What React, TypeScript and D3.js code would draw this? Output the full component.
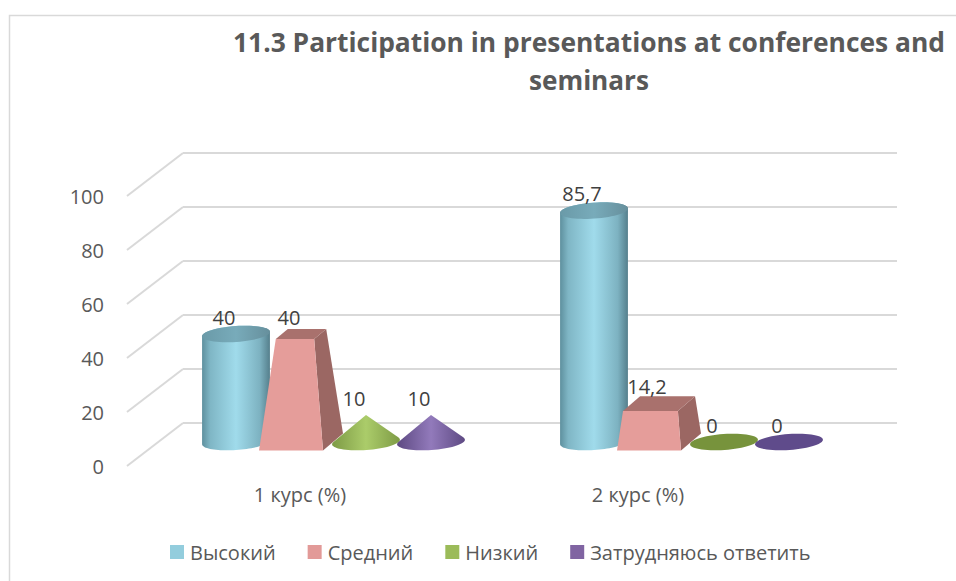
import * as d3 from 'd3';
import React, { useEffect, useRef } from 'react';

// chart data
const categories = ['1 курс (%)', '2 курс (%)'];
const seriesNames = ['Высокий', 'Средний', 'Низкий', 'Затрудняюсь ответить'];
const vysokiy = [40, 85.7];
const sredniy = [40, 14.2];
const nizkiy = [10, 0];
const zatrudnyayus = [10, 0];
const yTicks = [0, 20, 40, 60, 80, 100];
const titleLines = ['11.3 Participation in presentations at conferences and', 'seminars'];

const seriesValues = [vysokiy, sredniy, nizkiy, zatrudnyayus];
const shapes = ['cylinder', 'pyramid', 'cone', 'cone'];
const legendColors = ['#93cddd', '#e29a98', '#9bbb59', '#8064a2'];

const FONT = '"Open Sans", sans-serif';
const TEXT = '#595959';

const App = () => {
  const ref = useRef<SVGSVGElement>(null);

  useEffect(() => {
    const svg = d3.select(ref.current);
    svg.selectAll('*').remove();
    const defs = svg.append('defs');

    const gradient = (id: string, stops: [number, string][]) => {
      const g = defs.append('linearGradient').attr('id', id)
        .attr('x1', 0).attr('x2', 1).attr('y1', 0).attr('y2', 0);
      stops.forEach(([o, c]) => g.append('stop').attr('offset', o).attr('stop-color', c));
    };
    gradient('g-cyl', [[0, '#5e909e'], [0.12, '#7fb6c5'], [0.5, '#a0dbeb'], [0.85, '#7db2c1'], [1, '#557f8c']]);
    gradient('g-cyltop', [[0, '#6a9aa8'], [0.5, '#78abba'], [1, '#668f9c']]);
    gradient('g-green', [[0, '#7d9a45'], [0.5, '#abcc6a'], [1, '#7e9b45']]);
    gradient('g-purple', [[0, '#5d4982'], [0.5, '#927abb'], [1, '#5e4a83']]);
    const coneFill = ['', '', 'url(#g-green)', 'url(#g-purple)'];
    const discFill = ['#6f9fae', '#a3706b', '#77933c', '#5f4b8b'];

    // chart frame
    svg.append('rect').attr('width', 956).attr('height', 581).attr('fill', '#fff');
    svg.append('rect')
      .attr('x', 9.5).attr('y', 15.5).attr('width', 1000).attr('height', 1000)
      .attr('fill', 'none').attr('stroke', '#d9d9d9').attr('stroke-width', 1.5);

    // title
    svg.append('g').selectAll('text').data(titleLines).join('text')
      .attr('x', 589)
      .attr('y', (d, i) => 42 + i * 38)
      .attr('text-anchor', 'middle')
      .attr('dominant-baseline', 'central')
      .attr('font-family', FONT)
      .attr('font-weight', 700)
      .attr('font-size', 26)
      .attr('fill', TEXT)
      .attr('textLength', (d, i) => (i === 0 ? 712 : 120))
      .attr('lengthAdjust', 'spacingAndGlyphs')
      .text((d) => d);

    // back wall and side wall gridlines
    const wallLeft = 183;
    const wallRight = 897;
    const depthDx = -56;
    const depthDy = 43;
    const yBack = d3.scaleLinear().domain([0, 100]).range([423, 153]);
    const grid = svg.append('g').attr('stroke', '#d9d9d9').attr('stroke-width', 2).attr('fill', 'none');
    grid.selectAll('.h').data(yTicks).join('line')
      .attr('x1', wallLeft).attr('x2', wallRight)
      .attr('y1', (d) => yBack(d)).attr('y2', (d) => yBack(d));
    grid.selectAll('.d').data(yTicks).join('line')
      .attr('x1', wallLeft).attr('x2', wallLeft + depthDx)
      .attr('y1', (d) => yBack(d)).attr('y2', (d) => yBack(d) + depthDy);

    svg.append('g').selectAll('text').data(yTicks).join('text')
      .attr('x', 104)
      .attr('y', (d) => yBack(d) + depthDy)
      .attr('text-anchor', 'end')
      .attr('dominant-baseline', 'central')
      .attr('font-family', FONT)
      .attr('font-size', 20)
      .attr('fill', TEXT)
      .text((d) => d);

    // bars
    const x0 = d3.scalePoint().domain(categories).range([333.5, 691.5]);
    const x1 = d3.scalePoint().domain(seriesNames).range([-97.5, 97.5]);
    const h = d3.scaleLinear().domain([0, 100]).range([0, 270]);
    const baseY = 442;
    const rx = 34;
    const ry = 8;
    const tilt = (-4 * Math.PI) / 180;
    const line = d3.line();

    const ellipsePts = (cx: number, cy: number, t0: number, t1: number, n = 40) =>
      d3.range(n + 1).map((i) => {
        const t = t0 + ((t1 - t0) * i) / n;
        const ex = rx * Math.cos(t);
        const ey = ry * Math.sin(t);
        return [cx + ex * Math.cos(tilt) - ey * Math.sin(tilt), cy + ex * Math.sin(tilt) + ey * Math.cos(tilt)] as [number, number];
      });
    const tR = Math.atan2(-ry * Math.sin(tilt), rx * Math.cos(tilt));

    const bars = svg.append('g');
    const labels: { x: number; y: number; v: number }[] = [];

    categories.forEach((cat, ci) => {
      seriesNames.forEach((name, si) => {
        const v = seriesValues[si][ci];
        const cx = x0(cat)! + x1(name)!;
        const hv = h(v);
        const yt = baseY - hv;
        labels.push({ x: cx - 12, y: yt - 17, v });

        if (shapes[si] === 'cylinder') {
          const lower = ellipsePts(cx, baseY, tR, tR + Math.PI);
          const upper = ellipsePts(cx, yt, tR + Math.PI, tR + 2 * Math.PI);
          bars.append('path').attr('d', line([...lower, ...upper]) + 'Z').attr('fill', 'url(#g-cyl)');
          bars.append('path').attr('d', line(ellipsePts(cx, yt, 0, 2 * Math.PI, 60)) + 'Z').attr('fill', 'url(#g-cyltop)');
        } else if (shapes[si] === 'pyramid') {
          const hw = 32;
          const dx = 10;
          const dy = 8.5;
          const s = 1 - v / 100;
          const FBL: [number, number] = [cx - hw - dx, baseY + dy];
          const FBR: [number, number] = [cx + hw - dx, baseY + dy];
          const BBR: [number, number] = [cx + hw + dx, baseY - dy];
          const FTL: [number, number] = [cx - s * (hw + dx), yt + s * dy];
          const FTR: [number, number] = [cx + s * (hw - dx), yt + s * dy];
          const BTR: [number, number] = [cx + s * (hw + dx), yt - s * dy];
          const BTL: [number, number] = [cx - s * (hw - dx), yt - s * dy];
          bars.append('path').attr('d', line([FBR, BBR, BTR, FTR]) + 'Z').attr('fill', '#9b6763');
          bars.append('path').attr('d', line([FBL, FBR, FTR, FTL]) + 'Z').attr('fill', '#e59d9a');
          bars.append('path').attr('d', line([FTL, FTR, BTR, BTL]) + 'Z').attr('fill', '#a9716d');
        } else {
          if (hv < ry + 1) {
            bars.append('path').attr('d', line(ellipsePts(cx, baseY, 0, 2 * Math.PI, 60)) + 'Z').attr('fill', discFill[si]);
          } else {
            const yT = -(ry * ry) / hv;
            const tA = Math.asin(yT / ry);
            const lower = ellipsePts(cx, baseY, tA, Math.PI - tA);
            const apex: [number, number] = [cx, yt];
            bars.append('path').attr('d', line([...lower, apex]) + 'Z').attr('fill', coneFill[si]);
          }
        }
      });
    });

    // data labels
    svg.append('g').selectAll('text').data(labels).join('text')
      .attr('x', (d) => d.x)
      .attr('y', (d) => d.y)
      .attr('text-anchor', 'middle')
      .attr('dominant-baseline', 'central')
      .attr('font-family', FONT)
      .attr('font-size', 20)
      .attr('fill', '#404040')
      .text((d) => String(d.v).replace('.', ','));

    // category labels
    const xLabel = d3.scalePoint().domain(categories).range([300, 638]);
    svg.append('g').selectAll('text').data(categories).join('text')
      .attr('x', (d) => xLabel(d)!)
      .attr('y', 494)
      .attr('text-anchor', 'middle')
      .attr('dominant-baseline', 'central')
      .attr('font-family', FONT)
      .attr('font-size', 20)
      .attr('fill', TEXT)
      .text((d) => d);

    // legend
    const legend = svg.append('g');
    let lx = 170;
    seriesNames.forEach((name, i) => {
      legend.append('rect').attr('x', lx).attr('y', 545).attr('width', 14).attr('height', 14).attr('fill', legendColors[i]);
      const t = legend.append('text')
        .attr('x', lx + 20).attr('y', 552)
        .attr('dominant-baseline', 'central')
        .attr('font-family', FONT)
        .attr('font-size', 20)
        .attr('fill', TEXT)
        .text(name);
      const w = (t.node() as SVGTextElement).getComputedTextLength();
      lx += 20 + w + 32;
    });
  }, []);

  return (
    <svg ref={ref} width={956} height={581} style={{ position: 'absolute', left: 0, top: 0 }}></svg>
  );
};

export default App;
